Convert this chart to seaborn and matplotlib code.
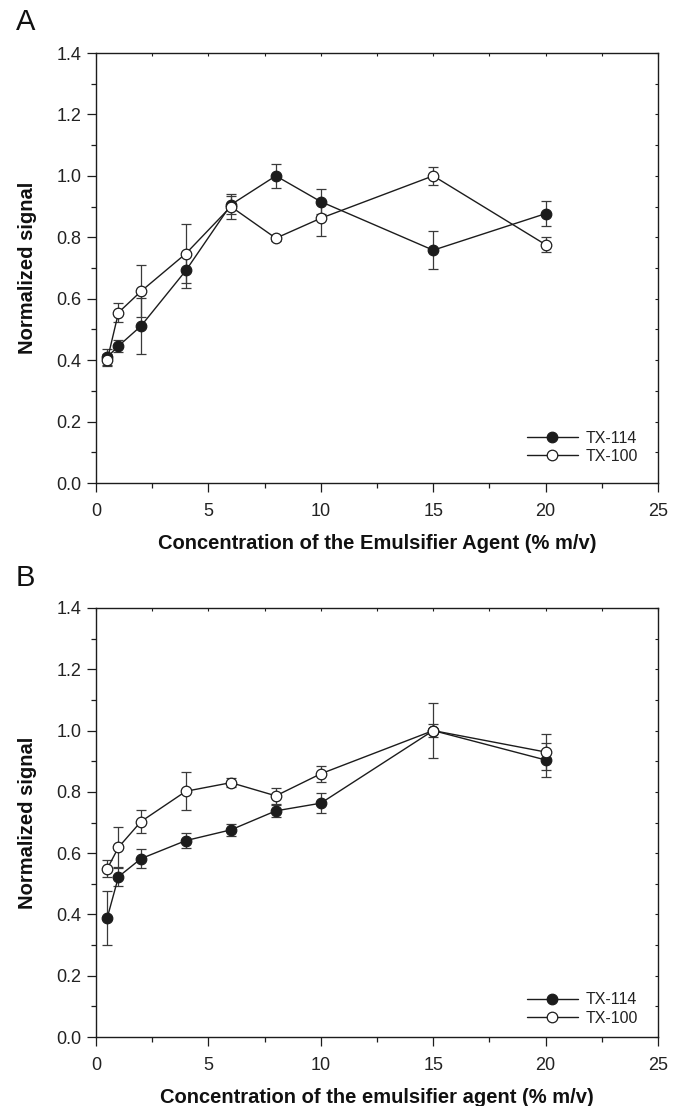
import matplotlib
matplotlib.use("Agg")
import matplotlib.pyplot as plt
import seaborn as sns
import pandas as pd
import numpy as np
from matplotlib.ticker import MultipleLocator, FormatStrFormatter
from matplotlib.lines import Line2D

# ---- data ----
conc = [0.5, 1, 2, 4, 6, 8, 10, 15, 20]

a_tx114 = [0.41, 0.446, 0.511, 0.692, 0.906, 1.00, 0.916, 0.758, 0.877]
a_tx114_err = [0.025, 0.02, 0.092, 0.056, 0.03, 0.04, 0.04, 0.062, 0.041]
a_tx100 = [0.40, 0.555, 0.624, 0.747, 0.900, 0.797, 0.862, 1.00, 0.776]
a_tx100_err = [0.02, 0.03, 0.085, 0.097, 0.04, 0.01, 0.057, 0.03, 0.024]

b_tx114 = [0.389, 0.523, 0.582, 0.641, 0.676, 0.738, 0.763, 1.00, 0.904]
b_tx114_err = [0.089, 0.03, 0.032, 0.025, 0.02, 0.02, 0.032, 0.09, 0.056]
b_tx100 = [0.549, 0.619, 0.703, 0.802, 0.830, 0.787, 0.859, 1.00, 0.930]
b_tx100_err = [0.028, 0.065, 0.038, 0.062, 0.015, 0.026, 0.026, 0.02, 0.06]

series_names = ["TX-114", "TX-100"]
panel_letters = ["A", "B"]
xlabels = ["Concentration of the Emulsifier Agent (% m/v)",
           "Concentration of the emulsifier agent (% m/v)"]
ylabel = "Normalized signal"

sns.set_style("ticks")
plt.rcParams["font.family"] = ["Liberation Sans", "DejaVu Sans"]

W, H = 674, 1106
fig = plt.figure(figsize=(W / 100, H / 100), dpi=100)

panels = [
    (53, 483, a_tx114, a_tx114_err, a_tx100, a_tx100_err, 0.011),
    (608, 1037, b_tx114, b_tx114_err, b_tx100, b_tx100_err, -0.007),
]
left, right = 96, 658
dark = "#1c1c1c"
ecol = "#3a3a3a"

for i, (top, bot, y1, e1, y2, e2, legy) in enumerate(panels):
    ax = fig.add_axes([left / W, 1 - bot / H, (right - left) / W, (bot - top) / H])
    df = pd.DataFrame({
        "conc": conc * 2,
        "signal": y1 + y2,
        "series": [series_names[0]] * len(conc) + [series_names[1]] * len(conc),
    })
    styles = [
        dict(mfc=dark, mec=dark),
        dict(mfc="white", mec=dark),
    ]
    for s, (yy, ee) in enumerate([(y1, e1), (y2, e2)]):
        ax.errorbar(conc, yy, yerr=ee, fmt="none", ecolor=ecol, elinewidth=0.9,
                    capsize=3.3, capthick=0.9, zorder=2)
    for s, name in enumerate(series_names):
        sub = df[df["series"] == name]
        sns.lineplot(data=sub, x="conc", y="signal", ax=ax, color=dark,
                     linewidth=1.0, marker="o", markersize=7.6,
                     markerfacecolor=styles[s]["mfc"], markeredgecolor=styles[s]["mec"],
                     markeredgewidth=0.9, legend=False, zorder=3 + s, sort=False)

    ax.set_xlim(0, 25)
    ax.set_ylim(0, 1.4)
    ax.xaxis.set_major_locator(MultipleLocator(5))
    ax.xaxis.set_minor_locator(MultipleLocator(2.5))
    ax.yaxis.set_major_locator(MultipleLocator(0.2))
    ax.yaxis.set_minor_locator(MultipleLocator(0.1))
    ax.yaxis.set_major_formatter(FormatStrFormatter("%.1f"))
    ax.tick_params(axis="both", which="major", direction="out", length=6.5, width=0.9,
                   labelsize=13, labelcolor="#222222", color=dark)
    ax.tick_params(axis="x", which="major", pad=8)
    ax.tick_params(axis="y", which="major", pad=4)
    ax.tick_params(axis="both", which="minor", direction="out", length=3.5, width=0.9, color=dark)
    for sp in ax.spines.values():
        sp.set_linewidth(1.0)
        sp.set_color(dark)
        sp.set_visible(True)
    # small inward ticks on top/right
    secx = ax.secondary_xaxis("top")
    secx.xaxis.set_major_locator(MultipleLocator(2.5))
    secx.tick_params(direction="in", length=2, width=0.8, labeltop=False, color=dark)
    secx.spines["top"].set_visible(False)
    secy = ax.secondary_yaxis("right")
    secy.yaxis.set_major_locator(MultipleLocator(0.1))
    secy.tick_params(direction="in", length=2, width=0.8, labelright=False, color=dark)
    secy.spines["right"].set_visible(False)

    ax.set_xlabel(xlabels[i], fontsize=14.5, fontweight="bold", labelpad=10, color="#111111")
    ax.set_ylabel(ylabel, fontsize=14.5, fontweight="bold", labelpad=14, color="#111111")

    handles = [
        Line2D([0], [0], color=dark, lw=1.0, marker="o", markersize=7.6,
               mfc=styles[s]["mfc"], mec=styles[s]["mec"], mew=0.9)
        for s in range(2)
    ]
    ax.legend(handles, series_names, loc="lower right", frameon=False, fontsize=11.5,
              handlelength=3.25, handletextpad=0.45, labelspacing=0.2,
              bbox_to_anchor=(0.99, legy), labelcolor="#222222")

    fig.text(16 / W, 1 - (top - 30.5) / H, panel_letters[i], fontsize=21, va="center", ha="left",
             color="#111111")

fig.savefig("out.png", dpi=100)
